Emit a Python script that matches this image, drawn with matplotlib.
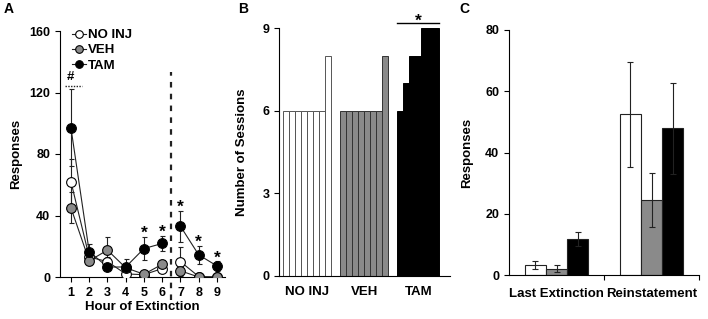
import matplotlib
matplotlib.use("Agg")
import matplotlib.pyplot as plt
import numpy as np

plt.rcParams['font.family'] = ['Liberation Sans', 'DejaVu Sans']
plt.rcParams['font.weight'] = 'bold'
plt.rcParams['lines.scale_dashes'] = False

# ---------------- data ----------------
hours = [1, 2, 3, 4, 5, 6, 7, 8, 9]
no_inj = [62, 13, 10, 2, 1.5, 5.5, 10, 0.3, 0]
no_inj_err = [15, 3, 3, 1, 1, 2, 9.5, 0.5, 0]
veh = [45, 10.5, 17.5, 6, 1.8, 8.3, 4, 0, 0]
veh_err = [10, 3, 8.5, 2, 1, 3, 3, 0, 0]
tam = [97, 16.5, 6.5, 6.5, 18.5, 21.8, 33, 14.4, 7.2]
tam_err = [25, 5, 2, 5, 7.5, 5, 10, 6, 3]
star_hours = [5, 6, 7, 8, 9]

b_groups = ["NO INJ", "VEH", "TAM"]
sessions_noinj = [6, 6, 6, 6, 6, 6, 6, 8]
sessions_veh = [6, 6, 6, 6, 6, 6, 6, 8]
sessions_tam = [6, 7, 8, 8, 9, 9, 9]

c_cats = ["Last Extinction", "Reinstatement"]
c_noinj = [3.4, 52.5]
c_noinj_err = [1.2, 17.2]
c_veh = [2.2, 24.6]
c_veh_err = [1.2, 8.7]
c_tam = [11.7, 47.9]
c_tam_err = [2.3, 14.7]

group_labels = ["NO INJ", "VEH", "TAM"]
face_colors = ["white", "#8a8a8a", "black"]

W, H = 708, 319
fig = plt.figure(figsize=(W / 100, H / 100), dpi=100)

def rect(l, r, b, t):
    return [l / W, 1 - b / H, (r - l) / W, (b - t) / H]

tick_fs = 9
lab_fs = 9.5

# ---------------- Panel A ----------------
axA = fig.add_axes(rect(60, 225, 277, 31))
series = [(no_inj, no_inj_err), (veh, veh_err), (tam, tam_err)]
hrs = np.array(hours)
segs = [hrs <= 6, hrs >= 7]
handles = []
for (vals, errs), fc, lab in zip(series, face_colors, group_labels):
    vals = np.array(vals, float)
    errs = np.array(errs, float)
    axA.errorbar(hrs, vals, yerr=errs, fmt='none', ecolor='#222222',
                 elinewidth=0.8, capsize=1.8, capthick=0.8, zorder=2)
    for m in segs:
        axA.plot(hrs[m], vals[m], '-', color='#222222', lw=0.8, zorder=3)
    axA.plot(hrs, vals, 'o', ms=7, mfc=fc, mec='black', mew=0.8, zorder=4)
    h, = axA.plot([], [], '-o', color='#222222', lw=0.8, ms=5.5, mfc=fc,
                  mec='black', mew=0.8)
    handles.append(h)

axA.set_xlim(0.4, 9.44)
axA.set_ylim(0, 160)
axA.set_yticks([0, 40, 80, 120, 160])
axA.set_xticks(hours)
for s in ['top', 'right']:
    axA.spines[s].set_visible(False)
axA.tick_params(labelsize=tick_fs, length=3.5, width=0.8, direction='out')
axA.set_ylabel("Responses", fontsize=lab_fs, fontweight='bold')
axA.yaxis.set_label_coords(-0.23, 0.5)
axA.set_xlabel("Hour of Extinction", fontsize=lab_fs, fontweight='bold', labelpad=2)
axA.axvline(6.5, ymin=-0.093, ymax=0.833, color='#222222', lw=1.6,
            linestyle=(0, (4.0, 4.5)), clip_on=False, zorder=1)
for hh in star_hours:
    i = hours.index(hh)
    axA.text(hh, tam[i] + tam_err[i] - 0.8, "*", ha='center', va='baseline',
             fontsize=12.5, fontweight='bold')
axA.plot([0.7, 1.6], [124.5, 124.5], ls=(0, (1, 1)), color='#222222', lw=1.0,
         clip_on=False)
axA.text(1.0, 126, "#", ha='center', va='bottom', fontsize=9.5, fontweight='bold')
axA.legend(handles, group_labels, loc='upper left', bbox_to_anchor=(0.03, 1.035),
           frameon=False, borderpad=0, handlelength=1.1, handletextpad=0.15,
           labelspacing=0.22, prop={'size': 9.5, 'weight': 'bold'})

# ---------------- Panel B ----------------
axB = fig.add_axes(rect(279, 450, 276, 28.3))
group_offsets = [0, 9.5, 19]
b_data = [sessions_noinj, sessions_veh, sessions_tam]
b_edges = ['#555555', '#333333', 'black']
centers = []
for vals, off, fc, ec in zip(b_data, group_offsets, face_colors, b_edges):
    x = off + np.arange(len(vals))
    axB.bar(x, vals, width=1.0, align='edge', color=fc, edgecolor=ec, linewidth=0.7)
    centers.append(off + len(vals) / 2)
axB.set_xlim(-0.72, 27.8)
axB.set_ylim(0, 9)
axB.set_yticks([0, 3, 6, 9])
axB.set_xticks(centers)
axB.set_xticklabels(b_groups)
for s in ['top', 'right']:
    axB.spines[s].set_visible(False)
axB.tick_params(axis='y', labelsize=tick_fs, length=3.5, width=0.8)
axB.tick_params(axis='x', labelsize=9.5, length=0, pad=7)
axB.set_ylabel("Number of Sessions", fontsize=lab_fs, fontweight='bold')
axB.yaxis.set_label_coords(-0.181, 0.5)
tam_off = group_offsets[2]
axB.plot([tam_off, tam_off + len(sessions_tam)], [9.18, 9.18], color='black', lw=1.0,
         clip_on=False)
axB.text(tam_off + len(sessions_tam) / 2, 9.08, "*", ha='center', va='baseline',
         fontsize=12.5, fontweight='bold')

# ---------------- Panel C ----------------
axC = fig.add_axes(rect(509, 699, 275.3, 30))
bw = 0.224
xc = np.arange(len(c_cats))
c_series = [(c_noinj, c_noinj_err), (c_veh, c_veh_err), (c_tam, c_tam_err)]
for k, ((vals, errs), fc) in enumerate(zip(c_series, face_colors)):
    axC.bar(xc + (k - 1) * bw, vals, width=bw, color=fc, edgecolor='#222222',
            linewidth=0.8, zorder=2)
    axC.errorbar(xc + (k - 1) * bw, vals, yerr=errs, fmt='none', ecolor='#222222',
                 elinewidth=0.8, capsize=2, capthick=0.8, zorder=3)
axC.set_xlim(-0.5, 1.5)
axC.set_ylim(0, 80)
axC.set_yticks([0, 20, 40, 60, 80])
axC.set_xticks(xc)
axC.set_xticklabels(c_cats)
axC.set_xticks([0.5, 1.5], minor=True)
for s in ['top', 'right']:
    axC.spines[s].set_visible(False)
axC.tick_params(axis='y', labelsize=tick_fs, length=3.5, width=0.8)
axC.tick_params(axis='x', which='major', labelsize=9.5, length=0, pad=9)
axC.tick_params(axis='x', which='minor', length=3.5, width=0.8)
axC.set_ylabel("Responses", fontsize=lab_fs, fontweight='bold')
axC.yaxis.set_label_coords(-0.19, 0.5)

# panel letters
for lbl, px in [("A", 9), ("B", 243), ("C", 464)]:
    fig.text(px / W, 1 - 9 / H, lbl, ha='center', va='center', fontsize=10,
             fontweight='bold')

fig.savefig("out.png", dpi=100)
